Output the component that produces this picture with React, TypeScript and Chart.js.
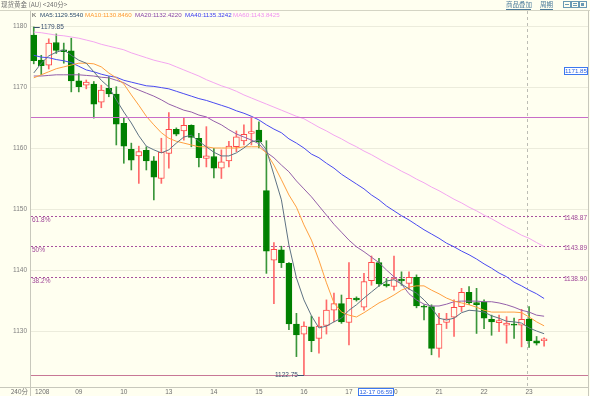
import React, { useEffect, useRef } from 'react';
import { Chart, registerables } from 'chart.js';
Chart.register(...registerables);

// ---- data ----
const dayStartIndex = [0, 6, 12, 18, 24, 30, 36, 42, 48, 54, 60, 66];
const dayLabels = ['1208', '09', '10', '13', '14', '15', '16', '17', '20', '21', '22', '23'];

const opens = [1178.5, 1174.4, 1173.6, 1177.3, 1176.1, 1175.95, 1171.0, 1170.3, 1170.5, 1167.5,
  1169.8, 1168.85, 1164.05, 1159.8, 1158.7, 1159.6, 1157.9, 1155.0, 1159.1, 1163.07,
  1162.8, 1163.7, 1161.6, 1158.3, 1158.6, 1156.7, 1157.9, 1160.2, 1161.15, 1162.4,
  1162.95, 1153.0, 1141.6, 1143.3, 1141.1, 1131.15, 1129.5, 1130.7, 1128.8, 1130.9,
  1133.4, 1134.5, 1131.4, 1135.4, 1133.9, 1138.25, 1141.2, 1137.7, 1137.3, 1138.5,
  1137.8, 1138.8, 1134.1, 1134.0, 1127.15, 1131.4, 1132.25, 1134.0, 1136.35, 1134.65,
  1134.8, 1131.9, 1131.35, 1130.95, 1131.15, 1130.95, 1131.95, 1128.4, 1128.4];
const highs = [1179.85, 1175.2, 1177.9, 1178.7, 1177.2, 1178.0, 1172.2, 1171.15, 1170.9, 1170.3,
  1171.7, 1170.05, 1164.9, 1160.8, 1160.3, 1160.2, 1158.6, 1161.6, 1165.8, 1163.3,
  1164.9, 1163.8, 1162.4, 1163.5, 1159.95, 1159.7, 1161.1, 1162.8, 1163.8, 1165.1,
  1164.3, 1161.2, 1144.5, 1143.9, 1141.2, 1132.9, 1131.5, 1132.45, 1132.3, 1135.1,
  1136.2, 1135.9, 1141.2, 1135.6, 1139.45, 1142.3, 1141.9, 1138.6, 1142.3, 1139.7,
  1139.7, 1139.2, 1134.3, 1134.3, 1132.9, 1132.9, 1135.1, 1137.0, 1137.3, 1137.0,
  1135.1, 1132.6, 1132.6, 1132.35, 1132.1, 1133.55, 1134.0, 1129.1, 1128.9];
const lows = [1173.8, 1172.0, 1172.95, 1175.5, 1173.9, 1169.2, 1169.2, 1169.7, 1164.9, 1166.6,
  1168.4, 1160.5, 1157.5, 1156.4, 1154.2, 1156.4, 1151.5, 1154.2, 1156.7, 1162.0,
  1161.3, 1160.2, 1156.9, 1156.9, 1155.1, 1155.0, 1156.9, 1159.4, 1160.5, 1160.5,
  1160.0, 1139.45, 1134.5, 1140.4, 1130.2, 1125.8, 1122.75, 1126.6, 1126.35, 1129.5,
  1131.5, 1131.25, 1127.7, 1134.9, 1133.4, 1137.5, 1137.3, 1137.2, 1136.7, 1137.5,
  1136.8, 1133.8, 1131.8, 1126.1, 1125.7, 1130.4, 1129.1, 1133.2, 1134.3, 1129.6,
  1130.4, 1129.3, 1129.9, 1128.0, 1128.8, 1127.4, 1127.3, 1127.7, 1127.5];
const closes = [1174.3, 1173.5, 1177.2, 1176.0, 1175.8, 1171.0, 1170.05, 1170.8, 1167.2, 1169.5,
  1168.85, 1163.9, 1160.3, 1158.0, 1159.4, 1157.9, 1155.2, 1159.3, 1163.07, 1162.25,
  1163.7, 1161.75, 1158.4, 1158.7, 1156.7, 1157.75, 1160.3, 1161.85, 1162.25, 1162.7,
  1161.0, 1143.1, 1143.4, 1141.2, 1131.15, 1129.35, 1130.8, 1128.4, 1130.8, 1133.45,
  1134.5, 1131.5, 1135.35, 1135.1, 1138.1, 1141.25, 1137.7, 1137.4, 1138.6, 1138.2,
  1138.8, 1134.1, 1133.9, 1127.15, 1131.15, 1132.0, 1133.9, 1136.35, 1134.65, 1134.3,
  1132.1, 1131.5, 1131.7, 1131.3, 1130.95, 1131.9, 1128.4, 1128.0, 1128.7];

const ma5 = [1172.3, 1173.9, 1175.1, 1175.7, 1176.1, 1175.2, 1174.4, 1173.9, 1172.5, 1171.1,
  1170.0, 1167.9, 1165.9, 1164.1, 1162.0, 1160.3, 1159.7, 1159.2, 1159.7, 1160.8,
  1161.8, 1162.1, 1161.1, 1160.2, 1159.3, 1158.7, 1158.7, 1159.2, 1160.0, 1161.0,
  1161.3, 1159.7, 1155.6, 1151.5, 1144.1, 1138.7, 1135.1, 1132.5, 1130.5, 1130.8,
  1131.5, 1132.1, 1133.4, 1134.3, 1135.4, 1136.4, 1137.4, 1138.2, 1138.4, 1137.7,
  1136.9, 1136.2, 1135.1, 1133.8, 1132.1, 1131.8, 1132.1, 1133.0, 1133.4, 1133.3,
  1133.1, 1132.5, 1132.1, 1131.6, 1131.5, 1131.3, 1130.5, 1130.0, 1129.554];
const ma10 = [1171.5, 1172.0, 1172.5, 1173.0, 1173.3, 1173.6, 1173.9, 1173.9, 1173.8, 1173.3,
  1172.3, 1171.5, 1170.5, 1168.7, 1167.0, 1165.2, 1163.8, 1162.5, 1161.6, 1161.1,
  1160.8, 1160.5, 1160.2, 1160.2, 1160.0, 1160.0, 1160.0, 1160.0, 1160.2, 1160.2,
  1160.2, 1159.2, 1157.2, 1154.8, 1152.3, 1150.3, 1147.4, 1144.9, 1141.6, 1137.9,
  1134.6, 1133.1, 1132.6, 1132.3, 1133.0, 1133.8, 1134.6, 1135.2, 1135.9, 1136.7,
  1137.2, 1137.4, 1137.4, 1136.7, 1136.1, 1135.4, 1134.9, 1134.6, 1134.3, 1133.9,
  1133.4, 1133.1, 1133.1, 1133.1, 1133.1, 1133.0, 1132.3, 1131.5, 1130.846];
const ma20 = [1171.8, 1171.8, 1171.9, 1172.0, 1172.0, 1172.0, 1172.0, 1171.9, 1171.8, 1171.6,
  1171.5, 1171.1, 1170.7, 1170.0, 1169.5, 1169.0, 1168.5, 1167.9, 1167.2, 1166.7,
  1166.2, 1165.9, 1165.4, 1165.1, 1164.4, 1163.8, 1163.0, 1162.3, 1161.8, 1161.3,
  1160.7, 1159.3, 1158.4, 1157.2, 1156.1, 1154.6, 1153.3, 1152.0, 1150.5, 1149.0,
  1147.5, 1146.2, 1144.9, 1143.8, 1143.0, 1142.1, 1141.2, 1140.0, 1138.9, 1137.7,
  1136.1, 1135.1, 1134.4, 1134.1, 1134.1, 1134.4, 1134.8, 1134.9, 1134.9, 1134.9,
  1134.8, 1134.8, 1134.6, 1134.3, 1133.9, 1133.4, 1133.1, 1132.6, 1132.422];
const ma40 = [1175.2, 1174.9, 1174.8, 1174.5, 1174.3, 1174.0, 1173.4, 1172.8, 1172.5, 1172.1,
  1171.8, 1171.6, 1171.1, 1170.8, 1170.5, 1170.2, 1170.1, 1169.9, 1169.7, 1169.3,
  1168.9, 1168.5, 1168.1, 1167.8, 1167.4, 1167.0, 1166.6, 1166.1, 1165.7, 1165.2,
  1164.6, 1163.8, 1163.1, 1162.5, 1161.5, 1160.8, 1160.0, 1159.0, 1158.4, 1157.5,
  1156.7, 1155.7, 1154.9, 1154.1, 1153.3, 1152.3, 1151.5, 1150.5, 1149.7, 1148.9,
  1148.2, 1147.4, 1146.6, 1145.9, 1145.2, 1144.4, 1143.8, 1143.1, 1142.5, 1141.8,
  1141.0, 1140.3, 1139.5, 1138.9, 1138.0, 1137.4, 1136.7, 1136.1, 1135.3242];
const ma60 = [1179.0, 1178.9, 1178.7, 1178.5, 1178.4, 1178.2, 1178.0, 1177.7, 1177.4, 1177.0,
  1176.7, 1176.4, 1176.1, 1175.6, 1175.2, 1174.8, 1174.4, 1174.1, 1173.8, 1173.3,
  1172.8, 1172.3, 1171.8, 1171.2, 1170.7, 1170.2, 1169.8, 1169.3, 1168.7, 1168.2,
  1167.7, 1167.2, 1166.7, 1166.2, 1165.7, 1165.2, 1164.8, 1164.1, 1163.4, 1162.8,
  1162.1, 1161.5, 1160.8, 1160.2, 1159.5, 1158.9, 1158.2, 1157.5, 1156.9, 1156.2,
  1155.6, 1154.9, 1154.3, 1153.6, 1153.0, 1152.3, 1151.6, 1151.0, 1150.3, 1149.7,
  1149.0, 1148.4, 1147.7, 1147.0, 1146.4, 1145.7, 1145.2, 1144.5, 1143.8425];

const maNames = ['MA5', 'MA10', 'MA20', 'MA40', 'MA60'];
const maSeries = [ma5, ma10, ma20, ma40, ma60];
const maColors = ['#5F7384', '#FFA040', '#9560AA', '#4A4AF0', '#F4A6F0'];
const maLegendColors = ['#2F4F6F', '#FF9A30', '#8A48A8', '#3A3AF0', '#F090F0'];

const fibTop = 1165.03;
const fibBottom = 1122.75;
const fibLabels = ['61.8%', '50%', '38.2%'];
const fibValues = [1148.87, 1143.89, 1138.90];
const fibValueLabels = ['1148.87', '1143.89', '1138.90'];
const highLabel = '1179.85';
const lowLabel = '1122.75';
const crossPriceLabel = '1171.85';
const crossTimeLabel = '12-17 06:59';
const titleText = '现货黄金 (AU) <240分>';

const BG = '#FFFFF0';
const UP = '#FF4848';
const DOWN = '#008000';
const FONT = "'Liberation Sans', Arial, sans-serif";
const CJK = "'Noto Sans CJK SC', sans-serif";

function drawText(c: CanvasRenderingContext2D, s: string, x: number, y: number, color: string,
  align: CanvasTextAlign = 'left', font = `6.5px ${FONT}`) {
  c.font = font;
  c.fillStyle = color;
  c.textAlign = align;
  c.textBaseline = 'middle';
  c.fillText(s, x, y);
}
function hline(c: CanvasRenderingContext2D, x1: number, x2: number, y: number) {
  c.beginPath(); c.moveTo(x1, y); c.lineTo(x2, y); c.stroke();
}
function vline(c: CanvasRenderingContext2D, x: number, y1: number, y2: number) {
  c.beginPath(); c.moveTo(x, y1); c.lineTo(x, y2); c.stroke();
}

const overlay = {
  id: 'overlay',
  beforeDraw(chart: any) {
    const c = chart.ctx as CanvasRenderingContext2D;
    c.save();
    c.fillStyle = BG;
    c.fillRect(0, 0, chart.width, chart.height);
    c.restore();
  },
  beforeDatasetsDraw(chart: any) {
    const c = chart.ctx as CanvasRenderingContext2D;
    const ys = chart.scales.y, xs = chart.scales.x;
    const { left, right, top, bottom } = chart.chartArea;
    c.save();
    c.lineWidth = 1;
    // frame
    c.strokeStyle = '#D4D4C4';
    hline(c, 0, chart.width, 10.5);
    c.strokeStyle = '#C8C8BC';
    hline(c, 0, right, Math.round(bottom) + 0.5);
    vline(c, Math.round(left) + 0.5, top, chart.height);
    vline(c, Math.round(right) + 0.5, top, chart.height);
    // day separator (dashed)
    c.strokeStyle = '#BDBDB5';
    c.setLineDash([3, 3]);
    const sx = Math.round(xs.getPixelForValue(dayStartIndex[dayStartIndex.length - 1] - 0.25)) + 0.5;
    vline(c, sx, top, bottom);
    // fib dotted levels
    c.strokeStyle = '#A8509E';
    c.setLineDash([2, 2]);
    fibValues.forEach((v) => {
      const y = Math.round(ys.getPixelForValue(v)) + 0.5;
      hline(c, left + 1, 568, y);
    });
    c.setLineDash([]);
    c.restore();
  },
  afterDatasetsDraw(chart: any) {
    const c = chart.ctx as CanvasRenderingContext2D;
    const ys = chart.scales.y, xs = chart.scales.x;
    const { left, right, bottom } = chart.chartArea;
    c.save();
    c.setLineDash([]);
    c.globalAlpha = 1;
    // solid levels (range high / low)
    const L = Math.round(left) + 1, W = Math.round(right) - L;
    c.fillStyle = 'rgb(200, 110, 200)';
    c.fillRect(L, Math.round(ys.getPixelForValue(fibTop)), W, 1);
    c.fillStyle = 'rgb(200, 120, 150)';
    c.fillRect(L, Math.round(ys.getPixelForValue(fibBottom)), W, 1);
    // fib labels
    fibValues.forEach((v, i) => {
      const y = Math.round(ys.getPixelForValue(v));
      drawText(c, fibLabels[i], left + 2, y + 4, '#A04898');
      drawText(c, fibValueLabels[i], 587, y + 2, '#A04898', 'right');
    });
    // high / low annotations
    c.strokeStyle = '#3A5070';
    c.lineWidth = 1;
    const hx = xs.getPixelForValue(0), hy = Math.round(ys.getPixelForValue(highs[0])) + 0.5;
    hline(c, hx, hx + 6, hy);
    drawText(c, highLabel, hx + 7, hy - 0.5, '#3A5070');
    const lx = xs.getPixelForValue(36), ly = Math.round(ys.getPixelForValue(lows[36])) + 0.5;
    hline(c, lx - 6, lx, ly);
    drawText(c, lowLabel, lx - 6, ly, '#3A5070', 'right');
    // header
    drawText(c, titleText, 1, 5, '#707070', 'left', `6.5px ${CJK}`);
    drawText(c, '商品叠加', 506, 5, '#4A7A9A', 'left', `6.5px ${CJK}`);
    drawText(c, '周期', 540, 5, '#4A7A9A', 'left', `6.5px ${CJK}`);
    c.strokeStyle = '#4A7A9A';
    hline(c, 506, 531, 9.5);
    hline(c, 540, 553, 9.5);
    c.strokeStyle = '#6A9AB4';
    [563, 571, 579].forEach((bx) => {
      c.strokeRect(bx + 0.5, 1.5, 7, 6);
    });
    c.fillStyle = '#6A9AB4';
    c.fillRect(565, 4, 4, 1);
    c.fillRect(573, 3, 4, 1);
    c.fillRect(573, 5, 4, 1);
    c.fillRect(581, 3, 3, 3);
    // legend
    drawText(c, 'K', 32, 15, '#404040', 'left', `6.2px ${FONT}`);
    const legendX = [40, 85, 135, 185, 233];
    maNames.forEach((n, i) => {
      const s = maSeries[i];
      drawText(c, `${n}:${s[s.length - 1].toFixed(4)}`, legendX[i], 15, maLegendColors[i], 'left', `6.2px ${FONT}`);
    });
    // crosshair labels
    const py = 71;
    c.fillStyle = '#FFFFFF';
    c.fillRect(564, py - 4, 24, 8);
    c.strokeStyle = '#3C78F0';
    c.strokeRect(564.5, py - 3.5, 23, 7);
    drawText(c, crossPriceLabel, 576, py, '#2E64E0', 'center', `6.2px ${FONT}`);
    c.fillStyle = '#FFFFFF';
    c.fillRect(358, Math.round(bottom) + 1, 36, 8);
    c.strokeStyle = '#3C78F0';
    c.strokeRect(358.5, Math.round(bottom) + 1.5, 35, 7);
    drawText(c, crossTimeLabel, 376, Math.round(bottom) + 5.5, '#2E64E0', 'center', `6.2px ${FONT}`);
    // axis corner labels
    drawText(c, '240分', 28, 392, '#707070', 'right', `6.5px ${CJK}`);
    drawText(c, dayLabels[0], 35, 392, '#707070');
    c.restore();
  },
};

export default function App() {
  const ref = useRef<HTMLCanvasElement>(null);
  useEffect(() => {
    document.body.style.margin = '0';
    const canvas = ref.current;
    if (!canvas) return;
    const idx = closes.map((_, i) => i);
    const isUp = idx.map((i) => closes[i] >= opens[i]);
    const wickData = idx.map((i) => ({ x: i, y: [lows[i], highs[i]] }));
    const bodyData = idx.map((i) => ({ x: i, y: [opens[i], closes[i]] }));
    const lineSets = maSeries.map((s, k) => ({
      type: 'line' as const,
      label: maNames[k],
      data: s.map((v, i) => ({ x: i, y: v })),
      borderColor: maColors[k],
      borderWidth: 1,
      pointRadius: 0,
      tension: 0,
      fill: false,
      order: 0,
    }));
    const chart = new Chart(canvas, {
      type: 'bar',
      data: {
        datasets: [
          {
            label: 'wick',
            data: wickData as any,
            backgroundColor: isUp.map((u) => (u ? '#FF6A6A' : '#3A963A')),
            borderWidth: 0,
            barThickness: 1,
            grouped: false,
            order: 2,
          } as any,
          {
            label: 'body',
            data: bodyData as any,
            backgroundColor: isUp.map((u) => (u ? BG : DOWN)),
            borderColor: isUp.map((u) => (u ? UP : DOWN)),
            borderWidth: 1,
            borderSkipped: false,
            barThickness: 6,
            minBarLength: 1,
            grouped: false,
            order: 1,
          } as any,
          ...lineSets,
        ],
      },
      options: {
        animation: false,
        responsive: false,
        maintainAspectRatio: false,
        events: [],
        layout: { padding: { top: 11, right: 2, left: 0, bottom: 0 } },
        plugins: { legend: { display: false }, tooltip: { enabled: false } },
        scales: {
          x: {
            type: 'linear',
            offset: false,
            min: -0.5,
            max: 73.85,
            grid: { display: false, drawTicks: false, offset: false },
            border: { display: false },
            afterBuildTicks: (s: any) => {
              s.ticks = dayStartIndex.slice(1).map((v) => ({ value: v }));
            },
            afterFit: (s: any) => { s.height = 9; },
            ticks: {
              autoSkip: false,
              maxRotation: 0,
              minRotation: 0,
              padding: 1,
              color: '#707070',
              font: { size: 6.5, family: FONT },
              callback: (v: any) => {
                const k = dayStartIndex.indexOf(Number(v));
                return k > 0 ? dayLabels[k] : '';
              },
            },
          },
          y: {
            type: 'linear',
            min: 1120.82,
            max: 1182.46,
            grid: { color: '#ECECDC', drawTicks: false },
            border: { display: false },
            afterFit: (s: any) => { s.width = 30; },
            ticks: {
              stepSize: 10,
              includeBounds: false,
              padding: 3,
              color: '#808080',
              font: { size: 6.5, family: FONT },
              callback: (v: any) => String(v),
            },
          },
        },
      } as any,
      plugins: [overlay],
    });
    return () => chart.destroy();
  }, []);
  return (
    <div style={{ width: 590, height: 396 }}>
      <canvas ref={ref} width={590} height={396} style={{ display: 'block' }} />
    </div>
  );
}
